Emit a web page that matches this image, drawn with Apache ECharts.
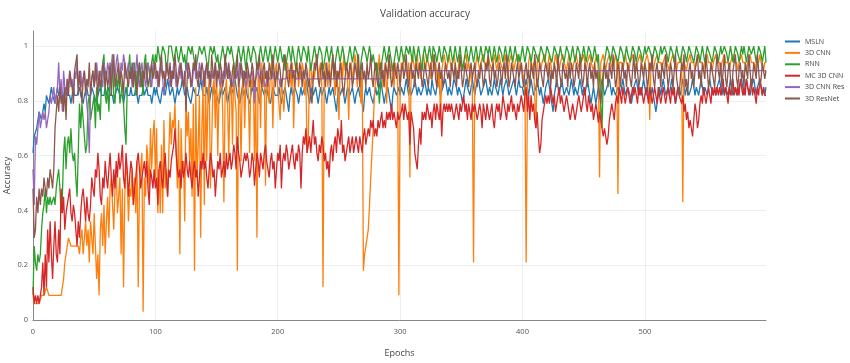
<!DOCTYPE html>
<html><head><meta charset="utf-8">
<script src="https://cdn.jsdelivr.net/npm/echarts@6/dist/echarts.min.js"></script>
<style>html,body{margin:0;padding:0;background:#fff}#c{width:850px;height:363px}</style>
</head><body><div id="c"></div>
<script>
// Validation accuracy per epoch, in percent (epochs 0..599)
const seriesNames = ['MSLN', '3D CNN', 'RNN', 'MC 3D CNN', '3D CNN Res', '3D ResNet'];
const xTickLabels = [0, 100, 200, 300, 400, 500];
const yTickLabels = [0, 0.2, 0.4, 0.6, 0.8, 1];

const msln = [
61,67,67,70,73,76,76,73,76,79,76,82,82,79,82,85,82,82,79,82,
85,82,82,82,79,82,82,85,82,82,82,79,82,85,82,82,82,82,85,82,
82,79,82,82,85,82,82,82,85,85,82,82,79,82,82,85,82,82,82,85,
82,82,85,82,82,82,79,82,82,85,85,82,82,82,79,82,85,82,82,82,
85,82,82,82,85,82,79,82,82,82,85,82,82,85,82,82,82,79,82,85,
82,85,82,82,79,82,85,85,82,82,88,85,82,82,85,82,79,82,85,82,
82,85,88,85,82,82,85,82,82,79,82,85,85,82,82,82,85,88,85,82,
82,82,85,82,79,82,85,82,85,85,82,82,79,82,85,82,82,85,82,79,
82,85,82,82,85,88,85,82,82,79,82,85,82,82,85,82,82,79,82,85,
85,82,82,85,82,79,82,85,85,82,82,85,82,82,79,82,85,85,82,82,
82,85,82,79,82,82,85,82,79,76,82,85,82,82,85,85,82,79,82,85,
82,82,85,88,85,82,79,82,85,82,82,85,82,79,82,85,82,82,85,82,
79,82,85,82,82,85,82,79,76,82,85,82,82,85,82,79,82,85,85,82,
82,85,82,79,82,82,85,82,82,79,76,82,85,82,82,85,82,82,79,82,
85,82,82,85,88,85,82,79,82,82,85,82,79,76,82,85,85,82,82,85,
82,85,85,82,85,88,85,82,85,82,82,85,88,85,82,85,85,82,82,85,
88,85,82,85,85,82,88,85,85,82,85,88,85,82,82,85,85,88,85,82,
85,85,82,85,88,88,85,82,85,85,82,79,82,85,88,85,85,82,85,88,
85,82,85,85,88,85,82,82,85,85,88,85,82,85,85,82,85,88,85,85,
82,85,88,85,82,85,85,88,85,82,82,85,85,88,85,82,85,88,85,85,
85,82,85,88,85,82,85,88,85,82,82,85,88,85,82,85,82,79,82,85,
85,88,85,82,79,76,82,85,88,85,82,85,88,85,82,82,85,85,82,85,
88,85,82,85,85,82,85,88,85,82,85,82,85,88,85,82,79,82,85,82,
79,82,85,82,85,88,85,82,82,85,85,88,85,82,85,85,82,82,85,85,
82,85,88,85,82,82,85,85,82,79,82,85,85,88,85,82,85,82,85,88,
85,82,85,82,79,82,85,82,79,76,79,82,85,82,85,88,85,82,82,85,
82,85,88,85,82,79,82,85,85,82,85,88,85,82,85,85,82,82,85,88,
85,82,85,85,82,85,88,85,82,85,85,82,85,88,85,85,82,85,82,85,
85,88,85,82,85,82,85,85,82,85,88,85,82,82,85,85,82,85,85,88,
85,82,85,88,85,85,82,85,85,88,85,82,85,85,88,85,82,85,82,85];

const cnn3d = [
9,6,6,6,6,6,6,9,9,9,9,12,12,9,9,9,9,9,9,9,
9,9,9,9,9,15,21,24,27,30,30,27,27,27,27,27,27,27,24,30,
33,24,30,36,27,33,21,36,30,24,39,27,15,24,9,33,39,27,42,24,
36,45,30,48,52,42,33,48,55,39,45,52,24,48,12,45,58,52,36,48,
45,55,42,52,39,58,12,48,55,61,3,52,45,64,58,48,70,55,67,73,
52,70,39,55,39,64,39,73,48,55,45,61,76,64,73,70,79,61,48,73,
24,70,55,58,36,82,67,76,58,70,45,79,18,85,52,64,82,30,70,85,
42,88,58,82,88,48,64,85,88,70,91,60,82,85,91,76,43,82,88,79,
58,85,88,64,91,82,76,18,88,82,58,85,91,70,88,91,82,61,88,85,
91,58,85,30,91,88,70,94,85,91,49,91,85,79,91,94,70,88,91,94,
85,79,73,88,82,76,85,91,94,88,91,85,94,70,88,91,94,85,91,88,
94,91,82,88,61,67,91,94,85,91,88,94,97,88,91,94,85,12,88,94,
91,85,94,88,91,97,88,82,91,85,73,91,94,88,97,91,94,88,73,91,
94,88,91,97,94,85,91,88,79,94,18,24,27,30,33,42,52,61,70,82,
88,94,91,97,88,94,85,91,94,79,91,97,88,94,91,85,94,91,88,9,
85,94,91,97,94,91,88,94,52,91,97,94,91,94,97,91,94,88,94,97,
94,91,97,94,94,88,94,97,91,94,94,85,94,73,91,94,97,94,91,94,
97,94,91,94,97,94,94,88,94,97,94,91,94,94,97,91,94,94,88,85,
21,88,94,97,94,91,94,94,97,94,91,94,97,94,94,91,94,97,94,91,
94,97,94,94,91,94,97,94,88,94,94,97,94,91,94,94,97,94,91,94,
94,88,85,21,82,94,97,94,91,94,94,70,94,97,94,91,94,94,97,94,
91,94,97,94,94,88,94,97,94,94,91,94,94,97,94,94,91,94,97,94,
94,91,94,94,97,94,94,91,94,94,97,94,91,94,94,97,94,94,91,94,
94,97,91,52,94,94,97,94,91,94,94,97,94,94,91,94,97,94,46,94,
94,94,91,94,97,94,94,91,94,94,97,94,94,91,94,94,97,94,94,91,
94,94,97,94,73,94,94,91,94,94,97,94,94,94,91,94,94,97,94,94,
91,94,94,97,94,94,91,94,94,94,97,43,94,94,91,94,94,97,94,94,
94,91,94,94,97,94,94,94,91,94,94,97,94,94,94,91,94,94,97,94,
94,94,91,94,94,97,94,94,94,91,94,94,97,94,94,94,91,94,94,97,
94,94,94,91,94,94,97,94,94,94,91,94,94,94,97,94,94,91,94,94];

const rnn = [
9,27,21,18,24,21,24,33,39,42,48,39,45,42,45,42,42,45,42,48,
52,55,48,39,45,61,67,55,64,67,61,70,61,58,61,52,45,61,79,70,
79,73,67,61,64,79,82,73,76,79,82,70,85,76,79,73,88,94,97,82,
79,85,76,88,91,97,82,79,88,85,91,79,82,88,79,70,64,85,91,97,
88,91,85,94,82,91,88,94,85,91,82,94,97,88,94,91,85,94,97,91,
97,94,100,100,94,97,100,100,97,91,94,100,100,100,97,94,97,100,100,94,
97,100,100,94,97,91,97,100,100,97,100,100,94,91,94,97,100,100,97,97,
100,100,94,91,97,100,100,97,100,100,94,97,91,94,97,100,100,94,97,100,
100,97,100,97,94,88,94,97,100,100,94,97,100,100,91,97,100,100,94,97,
100,100,97,91,94,97,100,100,94,97,100,100,94,97,100,100,91,97,100,100,
94,97,100,100,94,97,91,94,97,100,100,94,100,100,94,91,97,100,100,94,
97,100,100,97,94,100,100,91,94,97,100,100,94,97,100,100,97,91,94,97,
100,100,94,97,100,100,91,94,97,100,100,94,97,100,100,94,91,94,97,100,
100,94,97,100,100,97,91,88,94,97,100,100,97,94,97,100,100,94,97,94,
91,94,88,79,85,94,97,100,100,94,97,100,100,94,91,94,97,100,100,94,
97,100,100,94,97,100,100,97,100,100,94,100,100,94,97,100,100,94,91,97,
100,100,94,97,100,100,94,100,100,97,94,97,100,100,94,97,100,100,97,94,
97,100,100,94,97,100,100,94,97,100,100,91,94,97,100,100,94,97,100,100,
94,97,100,100,94,97,100,100,94,97,100,100,97,100,100,94,97,100,100,94,
97,100,100,97,94,97,100,100,94,97,100,100,94,97,100,100,94,97,94,97,
100,97,94,97,100,100,97,94,97,100,100,97,97,94,97,100,100,97,94,97,
100,100,97,97,94,97,100,100,97,94,97,100,97,97,94,97,100,100,97,94,
97,100,97,94,97,100,100,97,94,97,100,97,94,97,100,100,97,94,97,100,
97,94,97,88,79,70,88,94,97,100,100,97,94,97,100,100,97,97,94,97,
100,100,97,94,97,100,97,97,94,97,100,100,97,94,97,100,100,97,94,97,
100,97,97,100,100,97,94,97,100,100,97,94,97,100,97,97,100,100,97,94,
97,100,100,97,94,97,100,97,97,94,97,100,100,97,94,97,100,100,97,97,
94,97,100,100,97,94,97,100,97,94,97,100,100,97,97,94,97,100,100,97,
94,97,100,97,97,100,100,97,94,97,100,97,94,97,100,100,97,94,97,100,
97,100,97,94,97,100,100,97,97,100,97,94,97,100,100,97,94,97,100,94];

const mc3dcnn = [
12,6,9,6,9,6,9,12,21,9,24,12,33,21,36,24,15,27,36,24,
21,33,24,48,39,45,33,39,42,45,48,39,36,42,39,33,27,36,30,39,
45,48,42,36,45,39,36,42,52,48,45,55,52,61,55,45,42,52,48,58,
52,48,55,61,52,45,55,48,58,52,61,55,58,64,52,48,61,55,45,52,
58,55,42,48,52,58,61,55,48,52,55,58,52,58,48,42,55,52,48,55,
48,52,42,55,58,52,48,55,61,52,45,55,52,58,61,64,70,61,55,52,
55,48,58,52,55,61,55,52,58,52,48,55,58,52,55,45,52,58,55,61,
55,58,52,48,55,61,58,52,55,45,52,58,55,61,52,55,58,52,61,55,
58,61,55,58,64,61,55,67,61,58,52,55,58,61,58,61,58,52,55,61,
58,49,55,61,58,52,61,58,55,61,64,58,55,52,58,61,55,58,48,55,
61,58,64,48,58,61,58,64,61,55,58,61,64,58,55,61,58,64,61,48,
61,67,64,70,61,64,67,61,67,73,64,67,61,58,64,61,67,64,58,61,
55,58,52,61,64,58,64,67,61,70,67,64,73,61,64,58,61,64,67,61,
64,67,61,64,67,64,61,67,64,61,67,70,64,67,70,67,73,70,73,67,
70,67,73,70,73,76,70,73,70,76,73,76,73,79,73,76,73,70,76,73,
73,76,79,73,79,76,73,76,64,76,73,70,61,58,55,64,70,64,76,73,
76,73,79,76,73,76,70,76,79,73,79,76,73,79,67,76,79,76,79,76,
79,76,79,76,73,76,79,76,73,79,76,79,82,76,79,73,79,76,73,79,
76,79,76,73,76,79,76,70,79,76,73,79,76,73,76,79,73,70,76,79,
76,79,73,76,82,79,76,73,79,76,79,82,76,79,76,73,79,76,79,82,
79,76,82,85,76,82,73,82,76,79,73,70,76,67,61,64,73,76,79,82,
79,82,79,85,82,79,82,76,79,82,85,79,82,79,76,79,82,79,76,73,
76,79,76,73,76,79,82,79,76,79,82,85,79,76,82,79,76,79,73,76,
79,76,72,76,73,70,67,70,67,64,67,73,76,79,76,73,79,82,79,85,
82,79,85,82,79,82,85,82,79,82,85,82,85,82,79,85,82,85,82,79,
82,85,82,79,85,82,79,82,85,82,79,85,82,79,82,85,82,79,82,85,
82,79,85,82,85,79,82,85,82,82,79,82,76,79,73,76,70,73,70,67,
73,79,76,70,73,79,82,79,85,82,79,82,85,82,79,85,82,85,82,85,
82,85,82,85,88,82,85,82,79,85,82,85,88,82,85,82,85,82,88,85,
82,85,82,88,85,82,85,88,82,85,82,79,85,82,88,85,82,85,82,82];

const cnn3dRes = [
55,42,67,64,70,76,70,73,76,73,76,70,73,76,82,79,82,85,79,82,
85,94,82,88,76,91,85,82,88,85,91,85,88,82,91,88,94,85,88,91,
85,88,91,85,79,73,61,82,88,91,85,88,94,88,85,91,88,85,94,91,
88,94,91,85,88,97,91,88,94,97,91,88,94,91,97,94,88,91,94,88,
91,85,94,88,91,97,88,85,91,94,88,91,85,88,94,91,88,85,91,94,
88,91,85,88,94,91,88,82,88,91,94,88,85,91,88,94,91,85,88,91,
94,88,91,85,88,91,94,88,91,88,85,91,94,88,91,88,94,91,88,85,
91,88,94,91,88,85,91,88,91,94,88,91,88,85,91,88,91,88,94,91,
88,91,88,85,88,91,88,91,88,94,91,88,91,88,85,88,91,88,88,91,
88,79,88,88,91,88,88,91,88,88,85,88,91,88,88,88,91,88,88,88,
88,88,85,88,88,88,88,88,91,91,91,91,91,91,91,88,88,88,88,88,
88,91,91,91,88,88,88,88,88,88,88,88,88,88,88,88,88,88,88,88,
88,88,88,88,88,88,88,88,88,88,88,88,88,88,88,88,88,88,88,88,
88,88,88,88,88,88,88,88,88,88,88,88,88,88,88,88,88,88,88,88,
88,88,88,88,88,91,91,91,91,91,91,91,91,91,91,91,91,91,91,91,
91,91,91,91,91,91,91,91,91,91,91,91,91,91,91,91,91,91,91,91,
91,91,91,91,91,91,91,91,91,91,91,91,91,91,91,91,91,91,91,91,
91,91,91,91,91,91,91,91,91,91,91,91,91,91,91,91,91,91,91,91,
91,91,91,91,91,91,91,91,91,91,91,91,91,91,91,91,91,91,91,91,
91,91,91,91,91,91,91,91,91,91,91,91,91,91,91,91,91,91,91,91,
91,91,91,91,91,91,91,91,91,91,91,91,91,91,91,91,91,91,91,91,
91,91,91,91,91,91,91,91,91,91,91,91,91,91,91,91,91,91,91,91,
91,91,91,91,91,91,91,91,91,91,91,91,91,91,91,91,91,91,91,91,
91,91,91,91,91,91,91,91,91,91,91,91,91,91,91,91,91,91,91,91,
91,91,91,91,91,91,91,91,91,91,91,91,91,91,91,91,91,91,91,91,
91,91,91,91,91,91,91,91,91,91,91,91,91,91,91,91,91,91,91,91,
91,91,91,91,91,91,91,91,91,91,91,91,91,91,91,91,91,91,91,91,
91,91,91,91,91,91,91,91,91,91,91,91,91,91,91,91,91,91,91,91,
91,91,91,91,91,91,91,91,91,91,91,91,91,91,91,91,91,91,91,91,
91,91,91,91,91,91,91,91,91,91,91,91,91,91,91,91,91,91,91,91];

const resnet3d = [
48,30,33,45,39,48,42,48,45,52,48,45,52,48,55,52,48,55,70,76,
82,76,85,79,82,76,85,73,88,82,91,88,85,79,91,94,97,82,91,85,
79,88,91,82,88,85,94,82,88,91,85,94,88,82,91,85,88,94,91,85,
91,85,88,94,82,91,97,85,88,91,94,85,91,88,82,94,91,88,85,91,
88,94,85,91,88,82,91,94,88,85,91,88,94,91,85,88,91,94,88,91,
94,88,91,85,91,97,88,91,85,94,91,88,94,85,91,88,97,91,85,88,
91,94,88,85,91,76,88,94,91,85,88,94,91,97,88,85,91,88,94,91,
85,91,94,88,91,85,97,91,88,94,85,91,88,94,91,85,88,97,91,88,
94,88,85,91,94,88,91,97,85,88,94,91,85,91,88,94,91,85,88,94,
91,85,88,94,91,97,88,85,91,94,88,91,85,94,91,88,97,91,85,91,
88,94,91,85,88,94,97,91,88,85,91,94,88,91,85,94,91,88,94,91,
85,91,88,94,91,85,88,82,79,88,94,91,97,88,85,91,94,88,91,85,
94,88,91,85,91,97,88,94,85,91,88,94,91,85,82,88,94,91,88,94,
91,85,88,94,91,88,97,85,91,94,88,91,85,94,88,91,97,88,85,91,
94,88,85,91,94,88,91,85,94,91,88,97,91,85,88,94,91,88,94,91,
85,91,94,88,91,97,88,85,91,94,88,91,85,94,91,88,94,91,85,88,
94,91,88,85,91,94,88,91,97,88,85,91,94,88,91,85,88,94,91,88,
91,85,94,91,88,94,85,91,88,97,91,85,88,94,91,88,85,91,94,88,
91,94,88,85,91,88,94,91,85,88,94,91,97,88,85,91,94,88,91,85,
88,94,91,85,91,94,88,97,91,85,88,94,91,88,85,91,94,88,91,94,
88,85,91,94,88,91,85,94,91,88,97,91,85,88,94,91,88,85,91,94,
91,88,94,85,91,88,94,91,85,97,91,88,85,94,91,88,91,85,94,88,
94,91,85,88,94,91,88,97,91,85,88,94,91,85,91,94,88,91,85,94,
88,91,85,82,79,85,91,94,88,91,85,94,91,88,97,91,85,88,94,91,
85,91,94,88,91,85,94,91,88,85,91,97,88,94,91,85,88,94,91,88,
94,91,85,88,94,91,97,88,85,91,94,88,91,85,94,91,88,97,91,85,
88,94,91,85,91,97,88,85,82,88,94,91,97,85,88,82,91,94,88,91,
85,91,94,97,88,91,85,94,91,88,97,91,85,88,94,91,88,85,91,97,
91,88,94,85,91,97,88,85,91,94,88,82,91,94,97,88,85,91,94,88,
91,85,94,91,88,97,91,85,88,94,91,88,97,91,85,88,94,91,88,91];

const seriesValues = [msln, cnn3d, rnn, mc3dcnn, cnn3dRes, resnet3d];
const colors = ['#1f77b4', '#ff7f0e', '#2ca02c', '#d62728', '#9467bd', '#8c564b'];
const font = '"Open Sans", "Noto Sans", sans-serif';

const chart = echarts.init(document.getElementById('c'), null, { renderer: 'canvas' });
chart.setOption({
  animation: false,
  color: colors,
  title: {
    text: 'Validation accuracy', left: 'center', top: 4,
    textStyle: { fontFamily: font, fontSize: 10, fontWeight: 'normal', color: '#444' }
  },
  legend: {
    orient: 'vertical', left: 785, top: 38, icon: 'rect', padding: 0,
    itemWidth: 15, itemHeight: 2, itemGap: 4.4,
    textStyle: { fontFamily: font, fontSize: 7, color: '#444' },
    data: seriesNames
  },
  grid: { left: 33, right: 84, top: 31, bottom: 43, containLabel: false, outerBoundsMode: 'none' },
  xAxis: {
    type: 'value', min: 0, max: 599, interval: 100,
    name: 'Epochs', nameLocation: 'middle', nameGap: 29, nameMoveOverlap: false,
    nameTextStyle: { fontFamily: font, fontSize: 9, color: '#444' },
    axisLine: { lineStyle: { color: '#888', width: 1 } },
    axisTick: { show: false },
    axisLabel: {
      fontFamily: font, fontSize: 7.5, color: '#555', margin: 8, showMaxLabel: false,
      formatter: v => (xTickLabels.indexOf(v) >= 0 ? String(v) : '')
    },
    splitLine: { show: true, showMaxLine: false, lineStyle: { color: '#eee' } }
  },
  yAxis: {
    type: 'value', min: 0, max: 1.055, interval: 0.2,
    name: 'Accuracy', nameLocation: 'middle', nameGap: 21, nameRotate: 90, nameMoveOverlap: false,
    nameTextStyle: { fontFamily: font, fontSize: 9, color: '#444' },
    axisLine: { show: true, lineStyle: { color: '#888', width: 1 } },
    axisTick: { show: false },
    axisLabel: {
      fontFamily: font, fontSize: 7.5, color: '#555', margin: 5, showMaxLabel: false,
      formatter: v => {
        const m = yTickLabels.find(t => Math.abs(t - v) < 1e-6);
        return m === undefined ? '' : String(m);
      }
    },
    splitLine: { show: true, showMaxLine: false, lineStyle: { color: '#eee' } }
  },
  series: seriesNames.map((name, k) => ({
    name: name,
    type: 'line',
    showSymbol: false,
    symbol: 'none',
    silent: true,
    lineStyle: { width: 1.3, color: colors[k] },
    itemStyle: { color: colors[k] },
    data: seriesValues[k].map((v, i) => [i, v / 100])
  }))
});
</script>
</body></html>
